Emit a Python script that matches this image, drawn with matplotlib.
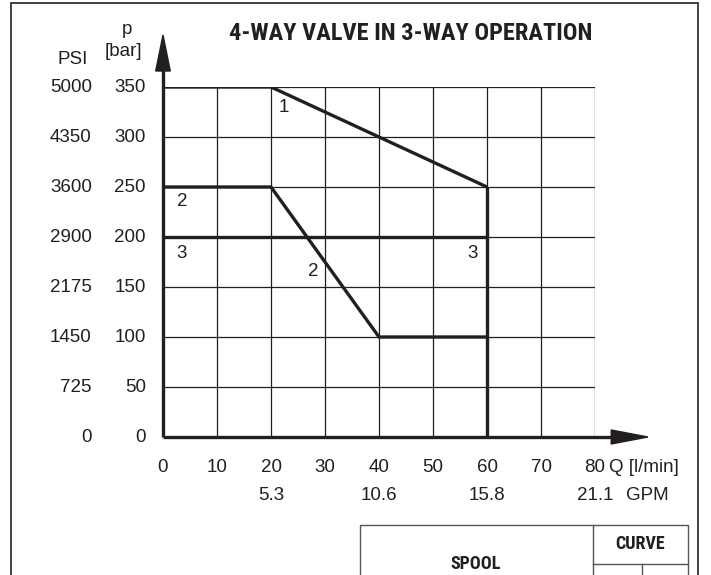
import matplotlib.pyplot as plt
from matplotlib import font_manager
from matplotlib.patches import Polygon, Rectangle
from matplotlib.lines import Line2D

plt.rcParams['font.family'] = ['Liberation Sans', 'DejaVu Sans']

# data
q_ticks = [0, 10, 20, 30, 40, 50, 60, 70, 80]
bar_ticks = [0, 50, 100, 150, 200, 250, 300, 350]
psi_labels = ['0', '725', '1450', '2175', '2900', '3600', '4350', '5000']
gpm_q = [20, 40, 60, 80]
gpm_labels = ['5.3', '10.6', '15.8', '21.1']

curve1_q = [0, 20, 60]
curve1_p = [350, 350, 250]
curve2_q = [0, 20, 40, 60]
curve2_p = [250, 250, 100, 100]
curve3_q = [0, 60]
curve3_p = [200, 200]
limit_q = [60, 60]
limit_p = [0, 250]

curve_labels = [('1', 22.4, 329), ('2', 3.5, 235), ('3', 3.5, 184),
                ('2', 27.8, 165), ('3', 57.4, 184)]

W, H = 711, 575
ink = '#231f20'
fs = 13.5

# condensed bold face for the headings if there is one
names = {f.name for f in font_manager.fontManager.ttflist}
if 'Roboto Condensed' in names:
    head_family, title_fs, head_fs = 'Roboto Condensed', 17.6, 13
elif 'Liberation Sans Narrow' in names:
    head_family, title_fs, head_fs = 'Liberation Sans Narrow', 17, 12.5
else:
    head_family, title_fs, head_fs = 'Roboto', 15.5, 12

fig = plt.figure(figsize=(W / 100, H / 100), dpi=100)


def fx(px):
    return px / W


def fy(py):
    return 1 - py / H


ax = fig.add_axes([fx(163), fy(437), 432 / W, 350 / H])
ax.set_xlim(0, 80)
ax.set_ylim(0, 350)
ax.axis('off')

# grid
for q in q_ticks[1:]:
    ax.plot([q, q], [0, 350], color=ink, lw=0.9, solid_capstyle='butt')
for p in bar_ticks[1:]:
    ax.plot([0, 80], [p, p], color=ink, lw=0.9, solid_capstyle='butt')

# curves
for qs, ps in [(curve1_q, curve1_p), (curve2_q, curve2_p),
               (curve3_q, curve3_p), (limit_q, limit_p)]:
    ax.plot(qs, ps, color=ink, lw=2.4, solid_capstyle='butt',
            solid_joinstyle='miter')

for txt, q, p in curve_labels:
    ax.text(q, p, txt, fontsize=fs, ha='center', va='center', color=ink)

# axes with arrows
ax.plot([0, 0], [0, 370], color=ink, lw=2.4, clip_on=False, solid_capstyle='butt')
ax.plot([0, 84], [0, 0], color=ink, lw=2.4, clip_on=False, solid_capstyle='butt')
ax.add_patch(Polygon([[-1.35, 366], [1.35, 366], [0, 402]], closed=True,
                     color=ink, clip_on=False))
ax.add_patch(Polygon([[83, 7], [83, -7], [89.8, 0]], closed=True,
                     color=ink, clip_on=False))

# tick labels
for q in q_ticks:
    ax.text(q, -30, str(q), fontsize=fs, ha='center', va='center', color=ink)
for q, g in zip(gpm_q, gpm_labels):
    ax.text(q, -58, g, fontsize=fs, ha='center', va='center', color=ink)
ax.text(82.6, -30, 'Q [l/min]', fontsize=fs, ha='left', va='center', color=ink)
ax.text(85.8, -58, 'GPM', fontsize=fs, ha='left', va='center', color=ink)

for p, s in zip(bar_ticks, psi_labels):
    ax.text(-3.2, p, str(p), fontsize=fs, ha='right', va='center', color=ink)
    ax.text(-13.2, p, s, fontsize=fs, ha='right', va='center', color=ink)
ax.text(-6.6, 407, 'p', fontsize=fs, ha='center', va='center', color=ink)
ax.text(-7.4, 385, '[bar]', fontsize=fs, ha='center', va='center', color=ink)
ax.text(-16.8, 377, 'PSI', fontsize=fs, ha='center', va='center', color=ink)

# title
fig.text(fx(411), fy(33), '4-WAY VALVE IN 3-WAY OPERATION', fontsize=title_fs,
         fontweight='bold', ha='center', va='center', color=ink,
         family=[head_family, 'DejaVu Sans'])

# outer frame
fig.add_artist(Rectangle((fx(11), fy(590)), fx(698) - fx(11), fy(3) - fy(590),
                         fill=False, ec='#333333', lw=1.3))

# spool table
tlw = 1.0
tc = '#555555'
fig.add_artist(Rectangle((fx(360), fy(590)), fx(688) - fx(360), fy(525) - fy(590),
                         fill=False, ec=tc, lw=tlw))
fig.add_artist(Line2D([fx(593), fx(593)], [fy(525), fy(590)], color=tc, lw=tlw))
fig.add_artist(Line2D([fx(593), fx(688)], [fy(564), fy(564)], color=tc, lw=tlw))
fig.add_artist(Line2D([fx(642), fx(642)], [fy(564), fy(590)], color=tc, lw=tlw))
fig.text(fx(476), fy(564), 'SPOOL', fontsize=head_fs, fontweight='bold', ha='center',
         va='center', color=ink, family=[head_family, 'DejaVu Sans'])
fig.text(fx(640), fy(544), 'CURVE', fontsize=head_fs, fontweight='bold', ha='center',
         va='center', color=ink, family=[head_family, 'DejaVu Sans'])

fig.savefig('out.png', dpi=100)
